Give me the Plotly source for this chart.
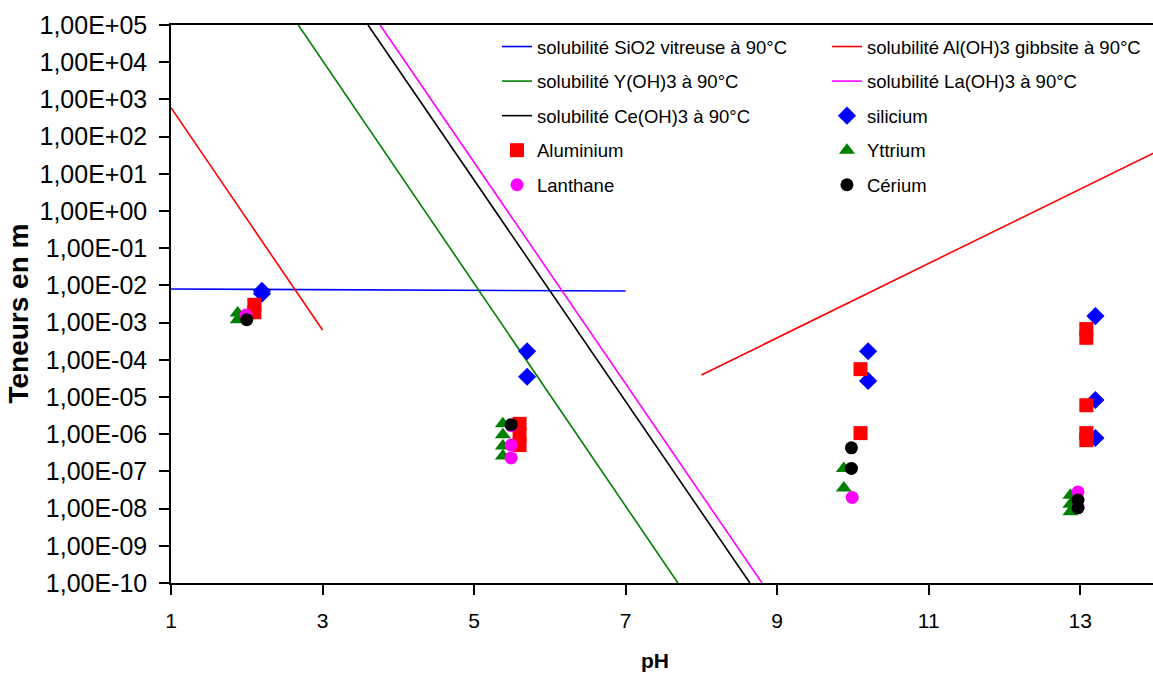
import plotly.graph_objects as go

# ---- Solubility lines (pH, concentration) ----
sio2_ph = [1.0, 7.0]
sio2_c = [8.0e-3, 7.1e-3]

al1_ph = [1.0, 3.0]
al1_c = [600.0, 6.3e-4]
al2_ph = [8.0, 14.0]
al2_c = [3.9e-5, 39.0]

y_ph = [2.68, 7.69]
y_c = [1e5, 1e-10]

la_ph = [3.76, 8.80]
la_c = [1e5, 1e-10]

ce_ph = [3.60, 8.64]
ce_c = [1e5, 1e-10]

# ---- Measured points ----
si_ph = [2.2, 2.2, 5.7, 5.7, 10.2, 10.2, 13.2, 13.2, 13.2]
si_c = [7.1e-3, 6.0e-3, 1.7e-4, 3.5e-5, 1.7e-4, 2.7e-5, 1.5e-3, 8.3e-6, 7.9e-7]

alm_ph = [2.1, 2.1, 5.6, 5.6, 5.6, 10.1, 10.1, 13.08, 13.08, 13.08, 13.08, 13.08]
alm_c = [3.0e-3, 1.9e-3, 1.9e-6, 1.0e-6, 5.1e-7, 5.6e-5, 1.07e-6, 6.7e-4, 3.9e-4, 6.0e-6, 1.07e-6, 6.9e-7]

ym_ph = [1.88, 1.88, 5.38, 5.38, 5.38, 5.38, 9.88, 9.88, 12.87, 12.87, 12.87]
ym_c = [1.8e-3, 1.2e-3, 1.9e-6, 9.6e-7, 4.8e-7, 2.6e-7, 1.2e-7, 3.6e-8, 2.3e-8, 1.3e-8, 8.2e-9]

lam_ph = [1.99, 5.49, 5.49, 5.49, 9.99, 12.97, 12.97]
lam_c = [1.6e-3, 1.7e-6, 5.1e-7, 2.3e-7, 2.0e-8, 2.8e-8, 1.1e-8]

cem_ph = [2.0, 5.49, 9.98, 9.98, 12.97, 12.97]
cem_c = [1.2e-3, 1.8e-6, 4.3e-7, 1.2e-7, 1.7e-8, 1.05e-8]

# ---- Axis ticks ----
y_exps = list(range(-10, 6))
y_tickvals = [10.0 ** e for e in y_exps]
y_ticktext = ["1,00E%s%02d" % ("+" if e >= 0 else "-", abs(e)) for e in y_exps]
x_tickvals = [1, 3, 5, 7, 9, 11, 13]

FONT = "Liberation Sans, Arial, sans-serif"

fig = go.Figure()

def line_trace(x, y, color, name, legend, show=True, group=None):
    return go.Scatter(x=x, y=y, mode="lines", line=dict(color=color, width=1.6),
                      name=name, legend=legend, showlegend=show,
                      legendgroup=group or name)

fig.add_trace(line_trace(sio2_ph, sio2_c, "#0000ff", "solubilité SiO2 vitreuse à 90°C", "legend"))
fig.add_trace(line_trace(al1_ph, al1_c, "#ff0000", "solubilité Al(OH)3 gibbsite à 90°C", "legend2", group="al"))
fig.add_trace(line_trace(al2_ph, al2_c, "#ff0000", "solubilité Al(OH)3 gibbsite à 90°C", "legend2", show=False, group="al"))
fig.add_trace(line_trace(y_ph, y_c, "#008000", "solubilité Y(OH)3 à 90°C", "legend"))
fig.add_trace(line_trace(la_ph, la_c, "#ff00ff", "solubilité La(OH)3 à 90°C", "legend2"))
fig.add_trace(line_trace(ce_ph, ce_c, "#000000", "solubilité Ce(OH)3 à 90°C", "legend"))

def marker_trace(x, y, color, symbol, size, name, legend):
    return go.Scatter(x=x, y=y, mode="markers",
                      marker=dict(color=color, symbol=symbol, size=size, line=dict(width=0)),
                      name=name, legend=legend, legendgroup=name)

fig.add_trace(marker_trace(si_ph, si_c, "#0000ff", "diamond", 14, "silicium", "legend2"))
fig.add_trace(marker_trace(alm_ph, alm_c, "#ff0000", "square", 14, "Aluminium", "legend"))
fig.add_trace(marker_trace(ym_ph, ym_c, "#008000", "triangle-up", 14, "Yttrium", "legend2"))
fig.add_trace(marker_trace(lam_ph, lam_c, "#ff00ff", "circle", 13, "Lanthane", "legend"))
fig.add_trace(marker_trace(cem_ph, cem_c, "#000000", "circle", 13, "Cérium", "legend2"))

legend_common = dict(font=dict(family=FONT, size=18.5, color="black"),
                     bgcolor="rgba(0,0,0,0)", borderwidth=0,
                     tracegroupgap=7.5, itemwidth=30,
                     xanchor="left", yanchor="top", yref="paper", xref="paper",
                     traceorder="grouped")

fig.update_layout(
    width=1153, height=678,
    margin=dict(l=171, r=0, t=25, b=95),
    paper_bgcolor="white", plot_bgcolor="white",
    font=dict(family=FONT, color="black"),
    showlegend=True,
    legend=dict(x=0.332, y=0.9946, **legend_common),
    legend2=dict(x=0.668, y=0.9946, **legend_common),
    xaxis=dict(range=[1, 13.96], tickvals=x_tickvals, ticktext=[str(v) for v in x_tickvals],
               showline=True, linecolor="black", linewidth=1.5, mirror=True,
               ticks="outside", ticklen=10, tickwidth=1.5, tickcolor="black",
               showgrid=False, zeroline=False,
               tickfont=dict(family=FONT, size=21, color="black"),
               ticklabelstandoff=8),
    yaxis=dict(type="log", range=[-10, 5], tickvals=y_tickvals, ticktext=y_ticktext,
               showline=True, linecolor="black", linewidth=1.5,
               ticks="outside", ticklen=10, tickwidth=1.5, tickcolor="black",
               showgrid=False, zeroline=False,
               tickfont=dict(family=FONT, size=25, color="black"),
               ticklabelstandoff=7),
    annotations=[
        dict(text="<b>pH</b>", xref="paper", yref="paper", x=0.493, y=-0.138,
             xanchor="center", yanchor="middle", showarrow=False,
             font=dict(family=FONT, size=21, color="black")),
        dict(text="<b>Teneurs en m</b>", xref="paper", yref="paper", x=-0.1548, y=0.318,
             xanchor="center", yanchor="bottom", textangle=-90, showarrow=False,
             font=dict(family=FONT, size=28, color="black")),
    ],
)

fig.write_html("out.html", config={"displayModeBar": False},
               post_script="document.body.style.margin='0';document.body.style.overflow='hidden';")
